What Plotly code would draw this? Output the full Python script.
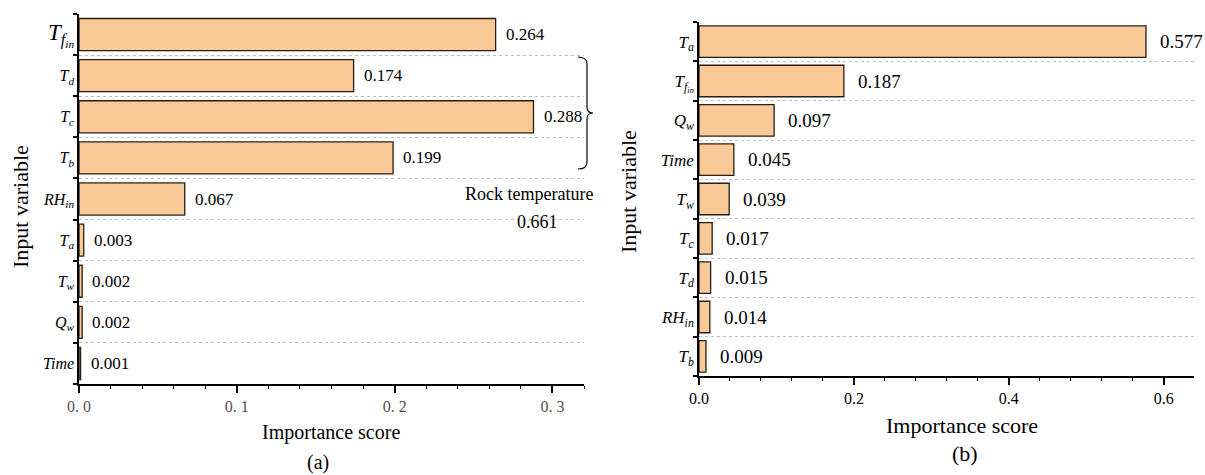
import plotly.graph_objects as go

# ---------------- data ----------------
vars_a = ["Tfin", "Td", "Tc", "Tb", "RHin", "Ta", "Tw", "Qw", "Time"]
scores_a = [0.264, 0.174, 0.288, 0.199, 0.067, 0.003, 0.002, 0.002, 0.001]

vars_b = ["Ta", "Tfin", "Qw", "Time", "Tw", "Tc", "Td", "RHin", "Tb"]
scores_b = [0.577, 0.187, 0.097, 0.045, 0.039, 0.017, 0.015, 0.014, 0.009]

# rock temperature group in panel (a)
rock_vars = ["Td", "Tc", "Tb"]

xticks_a = [0.0, 0.1, 0.2, 0.3]
xticktext_a = ["0. 0", "0. 1", "0. 2", "0. 3"]
xticks_b = [0.0, 0.2, 0.4, 0.6]
xticktext_b = ["0.0", "0.2", "0.4", "0.6"]

# ---------------- style ----------------
W, H = 1205, 475
SERIF = "Liberation Serif"
FILL = "rgb(250,201,152)"
EDGE = "rgb(40,30,20)"
GRID = "rgb(190,190,190)"

LABELS = {
    "Tfin": "<i>T</i><sub><i>f</i><sub><i>in</i></sub></sub>",
    "Td": "<i>T</i><sub><i>d</i></sub>",
    "Tc": "<i>T</i><sub><i>c</i></sub>",
    "Tb": "<i>T</i><sub><i>b</i></sub>",
    "Ta": "<i>T</i><sub><i>a</i></sub>",
    "Tw": "<i>T</i><sub><i>w</i></sub>",
    "Qw": "<i>Q</i><sub><i>w</i></sub>",
    "RHin": "<i>RH</i><sub><i>in</i></sub>",
    "Time": "<i>Time</i>",
}


def px(x, y):
    """pixel position -> paper coordinates"""
    return x / W, 1 - y / H


fig = go.Figure()

fig.add_trace(go.Bar(
    x=scores_a, y=vars_a, orientation="h", width=0.78,
    marker=dict(color=FILL, line=dict(color=EDGE, width=1.3)),
    xaxis="x", yaxis="y", showlegend=False, hoverinfo="x+y",
))
fig.add_trace(go.Bar(
    x=scores_b, y=vars_b, orientation="h", width=0.8,
    marker=dict(color=FILL, line=dict(color=EDGE, width=1.3)),
    xaxis="x2", yaxis="y2", showlegend=False, hoverinfo="x+y",
))

annotations = []
for v, s in zip(vars_a, scores_a):
    annotations.append(dict(x=s, y=v, xref="x", yref="y", text=f"{s:.3f}",
                            xanchor="left", yanchor="middle", xshift=8,
                            showarrow=False, font=dict(family=SERIF, size=17, color="black")))
for v, s in zip(vars_b, scores_b):
    annotations.append(dict(x=s, y=v, xref="x2", yref="y2", text=f"{s:.3f}",
                            xanchor="left", yanchor="middle", xshift=12,
                            showarrow=False, font=dict(family=SERIF, size=19, color="black")))

rock_total = sum(s for v, s in zip(vars_a, scores_a) if v in rock_vars)
for txt, (x, y) in [("Rock temperature", px(529, 194)), (f"{rock_total:.3f}", px(537, 222))]:
    annotations.append(dict(x=x, y=y, xref="paper", yref="paper", text=txt,
                            xanchor="center", yanchor="middle", showarrow=False,
                            font=dict(family=SERIF, size=18, color="black")))

# axis titles and panel tags
titles = [
    ("Importance score", 331, 432, 20, 0),
    ("(a)", 318, 462, 20, 0),
    ("Importance score", 962, 425, 22, 0),
    ("(b)", 965, 453, 22, 0),
    ("Input variable", 20, 207, 22, -90),
    ("Input variable", 628, 192, 22, -90),
]
for txt, x, y, size, ang in titles:
    xp, yp = px(x, y)
    annotations.append(dict(x=xp, y=yp, xref="paper", yref="paper", text=txt,
                            xanchor="center", yanchor="middle", showarrow=False,
                            textangle=ang, font=dict(family=SERIF, size=size, color="black")))


# curly brace grouping the rock temperature bars
def brace_path(x0, ytop, ybot, depth=9, tip=14):
    ym = (ytop + ybot) / 2
    xb = x0 + depth

    def P(x, y):
        a, b = px(x, y)
        return f"{a:.5f},{b:.5f}"
    return (f"M{P(x0, ytop)} Q{P(xb, ytop)} {P(xb, ytop + 7)} L{P(xb, ym - 6)} "
            f"Q{P(xb, ym)} {P(xb + 6, ym)} L{P(x0 + tip, ym)} "
            f"M{P(xb + 6, ym)} Q{P(xb, ym)} {P(xb, ym + 6)} L{P(xb, ybot - 7)} "
            f"Q{P(xb, ybot)} {P(x0, ybot)}")


shapes = [dict(type="path", xref="paper", yref="paper",
               path=brace_path(578, 57, 169), line=dict(color="black", width=1.2))]

axis_common = dict(showline=True, linecolor="black", linewidth=1.5, mirror=False,
                   automargin=False)

fig.update_layout(
    width=W, height=H,
    margin=dict(l=0, r=0, t=0, b=0, autoexpand=False),
    paper_bgcolor="white", plot_bgcolor="white",
    font=dict(family=SERIF, color="black"),
    bargap=0.2,
    xaxis=dict(domain=[79 / W, 584 / W], anchor="y", range=[0, 0.32],
               tickmode="array", tickvals=xticks_a, ticktext=xticktext_a,
               ticks="outside", ticklen=7, tickwidth=1.5, tickcolor="black",
               minor=dict(ticks="outside", ticklen=3, tickwidth=1.3, dtick=0.02,
                          tickcolor="black", showgrid=False),
               tickfont=dict(family=SERIF, size=16, color="rgb(80,80,80)"),
               showgrid=False, zeroline=False, **axis_common),
    yaxis=dict(domain=[1 - 384 / H, 1 - 14 / H], anchor="x", type="category",
               autorange="reversed", tickmode="array", tickvals=vars_a,
               ticktext=[(f'<span style="font-size:23px">{LABELS[v]}</span>' if v == "Tfin" else LABELS[v])
                         for v in vars_a],
               tickson="boundaries", ticks="outside", ticklen=4, tickwidth=1.5,
               tickcolor="black", tickfont=dict(family=SERIF, size=16, color="black"),
               showgrid=True, gridcolor=GRID, griddash="dot", gridwidth=1,
               zeroline=False, **axis_common),
    xaxis2=dict(domain=[699 / W, 1194 / W], anchor="y2", range=[0, 0.639],
                tickmode="array", tickvals=xticks_b, ticktext=xticktext_b,
                ticks="outside", ticklen=7, tickwidth=1.5, tickcolor="black",
                minor=dict(ticks="outside", ticklen=3, tickwidth=1.3, dtick=0.04,
                           tickcolor="black", showgrid=False),
                tickfont=dict(family=SERIF, size=16, color="black"),
                showgrid=False, zeroline=False, **axis_common),
    yaxis2=dict(domain=[1 - 376 / H, 1 - 22 / H], anchor="x2", type="category",
                autorange="reversed", tickmode="array", tickvals=vars_b,
                ticktext=[LABELS[v] for v in vars_b],
                tickson="boundaries", ticks="outside", ticklen=4, tickwidth=1.5,
                tickcolor="black", tickfont=dict(family=SERIF, size=17, color="black"),
                showgrid=True, gridcolor=GRID, griddash="dot", gridwidth=1,
                zeroline=False, **axis_common),
    annotations=annotations,
    shapes=shapes,
)

fig.write_html("out.html")
